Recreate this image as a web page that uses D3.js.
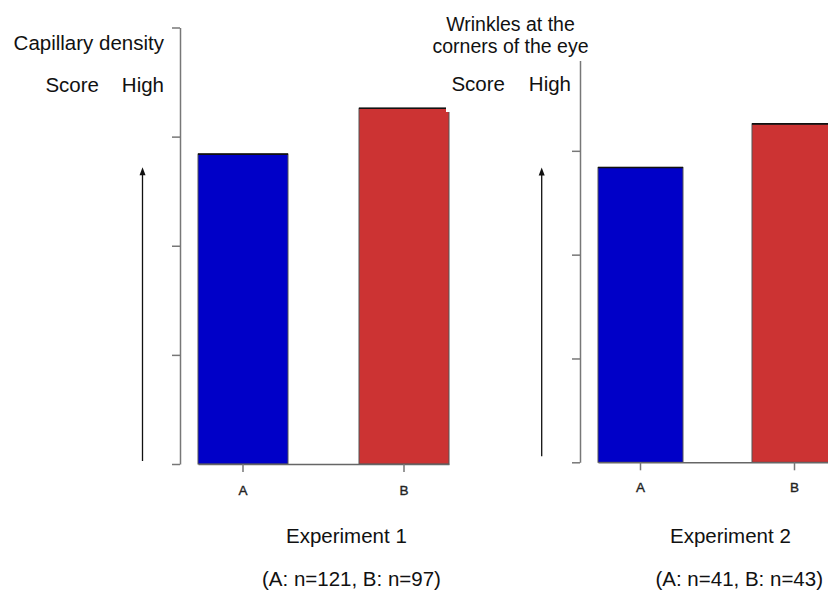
<!DOCTYPE html>
<html>
<head>
<meta charset="utf-8">
<script src="https://cdn.jsdelivr.net/npm/d3@7"></script>
<style>
  body { margin: 0; background: #fff; }
  svg { display: block; font-family: "Liberation Sans", Arial, sans-serif; }
</style>
</head>
<body>
<div id="chart"></div>
<script>
// data
const groups = ["A", "B"]
const exp1Scores = [2.84, 3.26]
const exp2Scores = [2.84, 3.26]
const yTicks = [0, 1, 2, 3, 4]
const barColors = ["#0000c8", "#cc3333"]

const W = 828, H = 590

let svg = d3.select("#chart").append("svg")
  .attr("width", W)
  .attr("height", H)

// one panel: axis at axisX, bars between x0 and x1, baseline y0, top of scale yTop
const drawPanel = (p) => {
  let x = d3.scaleBand()
    .domain(groups)
    .range([p.x0, p.x1])
    .paddingInner(p.padIn)
    .paddingOuter(0)
  let y = d3.scaleLinear()
    .domain([0, 4])
    .range([p.y0, p.yTop])

  let g = svg.append("g")

  // y axis, no labels, ticks pointing left
  let yAxis = g.append("g")
    .attr("transform", "translate(" + p.axisX + ",0)")
    .call(d3.axisLeft(y).tickValues(yTicks).tickSize(8).tickSizeOuter(0).tickFormat(""))
  yAxis.selectAll("path, line").attr("stroke", "#777").attr("stroke-width", 1.5)

  // bars
  g.selectAll("rect.bar")
    .data(p.values)
    .join("rect")
    .attr("class", "bar")
    .attr("x", (d, i) => x(groups[i]))
    .attr("y", d => y(d))
    .attr("width", x.bandwidth())
    .attr("height", d => y(0) - y(d))
    .attr("fill", (d, i) => barColors[i])
    .attr("stroke", "#555")
    .attr("stroke-width", 1)
  g.selectAll("line.top")
    .data(p.values)
    .join("line")
    .attr("class", "top")
    .attr("x1", (d, i) => x(groups[i]))
    .attr("x2", (d, i) => x(groups[i]) + x.bandwidth())
    .attr("y1", d => y(d))
    .attr("y2", d => y(d))
    .attr("stroke", "#111")
    .attr("stroke-width", 1.6)

  // x axis: baseline spanning the bars, ticks down
  let xAxis = g.append("g")
    .attr("transform", "translate(0," + y(0) + ")")
    .call(d3.axisBottom(x).tickSize(8).tickSizeOuter(0))
  xAxis.select(".domain").attr("stroke", "#666").attr("stroke-width", 1.5)
  xAxis.selectAll(".tick line").attr("stroke", "#777").attr("stroke-width", 1.5)
  xAxis.selectAll(".tick text")
    .attr("y", p.labelDy)
    .attr("dy", 0)
    .style("font-family", "'Liberation Sans', Arial, sans-serif")
    .style("font-size", "13.5px")
    .attr("fill", "#222")
    .attr("stroke", "#222")
    .attr("stroke-width", 0.35)

  // "score goes up" arrow
  g.append("line")
    .attr("x1", p.arrowX).attr("x2", p.arrowX)
    .attr("y1", y(0) - p.arrowGap).attr("y2", y(p.arrowTo) + 7)
    .attr("stroke", "#111").attr("stroke-width", 1.3)
  g.append("path")
    .attr("d", d3.line()([[p.arrowX - 3, y(p.arrowTo) + 8], [p.arrowX, y(p.arrowTo)], [p.arrowX + 3, y(p.arrowTo) + 8]]) + "Z")
    .attr("fill", "#111")
  return g
}

drawPanel({ values: exp1Scores, x0: 198, x1: 449, padIn: 0.441, y0: 464, yTop: 27.5,
  axisX: 180, labelDy: 31, arrowX: 142.5, arrowTo: 2.72, arrowGap: 3 })

// white label box of the second panel lies over the first panel's red bar corner
svg.append("rect").attr("x", 446).attr("y", 0).attr("width", 145).attr("height", 61).attr("fill", "#fff")
svg.append("rect").attr("x", 446).attr("y", 0).attr("width", 130).attr("height", 112).attr("fill", "#fff")

drawPanel({ values: exp2Scores, x0: 598, x1: 837, padIn: 0.448, y0: 462.3, yTop: 47,
  axisX: 580, labelDy: 30, arrowX: 541.7, arrowTo: 2.84, arrowGap: 6 })
// hide axis top that sits behind the label box
svg.append("rect").attr("x", 560).attr("y", 0).attr("width", 30).attr("height", 61).attr("fill", "#fff")

// texts
const txt = (s, x, y, anchor, size = 20.5) => svg.append("text")
  .attr("x", x).attr("y", y)
  .attr("text-anchor", anchor)
  .style("font-size", size + "px")
  .attr("fill", "#111")
  .text(s)

txt("Capillary density", 164, 50, "end")
txt("Score", 99, 92, "end")
txt("High", 164, 92, "end")

txt("Wrinkles at the", 510.5, 30.5, "middle", 19.5)
txt("corners of the eye", 510.5, 52.5, "middle", 19.5)
txt("Score", 505, 91, "end")
txt("High", 571, 91, "end")

txt("Experiment 1", 286, 543, "start")
txt("(A: n=121, B: n=97)", 262, 586, "start")
txt("Experiment 2", 670, 543, "start")
txt("(A: n=41, B: n=43)", 823, 586, "end")
</script>
</body>
</html>
